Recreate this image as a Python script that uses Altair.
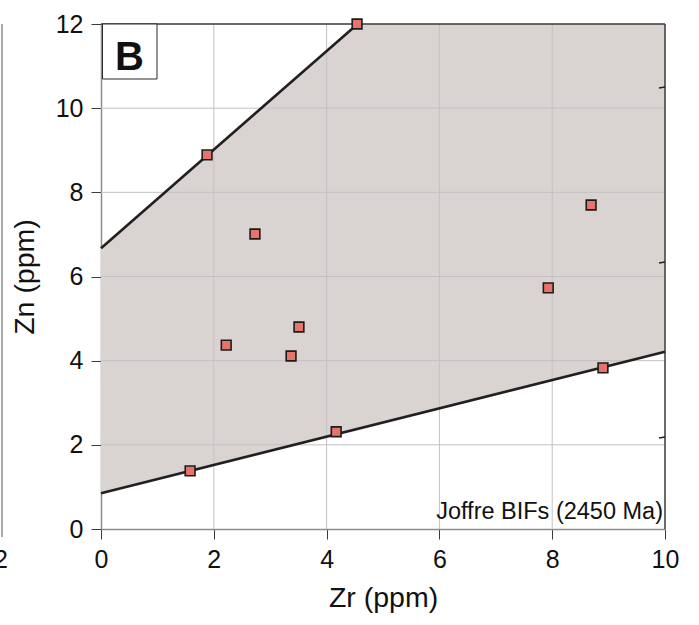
import altair as alt
import pandas as pd

# ---- data ----
zr = [4.54, 1.88, 2.73, 2.22, 3.51, 3.37, 4.17, 1.58, 7.93, 8.69, 8.90]
zn = [12.0, 8.89, 7.01, 4.37, 4.80, 4.11, 2.31, 1.38, 5.73, 7.70, 3.83]

upper_x = [0.0, 4.55]
upper_y = [6.67, 12.0]
lower_x = [0.0, 10.0]
lower_y = [0.85, 4.21]

area_x = [0.0, 4.55, 10.0]
area_lo = [0.85, 2.38, 4.21]
area_hi = [6.67, 12.0, 12.0]

x_ticks = [0, 2, 4, 6, 8, 10]
y_ticks = [0, 2, 4, 6, 8, 10, 12]
x_grid = [2, 4, 6, 8]
y_grid = [2, 4, 6, 8, 10]

W, H = 564, 505
FONT = "Liberation Sans"

xs = alt.Scale(domain=[0, 10], nice=False, zero=False)
ys = alt.Scale(domain=[0, 12], nice=False, zero=False)

xaxis = alt.Axis(values=x_ticks, grid=False, tickSize=10, tickColor="#3a3a3a",
                 domainColor="#8c8c8c", domainWidth=1.5, labelFont=FONT,
                 labelFontSize=25, labelColor="#111111", labelPadding=8,
                 labelFlush=False, labelOverlap=False, titleFont=FONT,
                 titleFontSize=28.5, titleFontWeight="normal", titleColor="#111111",
                 titlePadding=11)
yaxis = alt.Axis(values=y_ticks, grid=False, tickSize=10, tickColor="#3a3a3a",
                 domainColor="#8c8c8c", domainWidth=1.5, labelFont=FONT,
                 labelFontSize=25, labelColor="#111111", labelPadding=8,
                 labelFlush=False, labelOverlap=False, titleFont=FONT,
                 titleFontSize=28.5, titleFontWeight="normal", titleColor="#111111",
                 titlePadding=16)


def X(field):
    return alt.X(f"{field}:Q", scale=xs, axis=xaxis, title="Zr (ppm)")


def Y(field):
    return alt.Y(f"{field}:Q", scale=ys, axis=yaxis, title="Zn (ppm)")


area_df = pd.DataFrame({"x": area_x, "lo": area_lo, "hi": area_hi})
area = alt.Chart(area_df).mark_area(color="#d9d4d2", opacity=1).encode(
    x=X("x"), y=Y("lo"), y2="hi:Q"
)

gx = alt.Chart(pd.DataFrame({"x": x_grid})).mark_rule(color="#c2c2c2", strokeWidth=1).encode(x=X("x"))
gy = alt.Chart(pd.DataFrame({"y": y_grid})).mark_rule(color="#c2c2c2", strokeWidth=1).encode(y=Y("y"))

border_top = alt.Chart().mark_rule(color="#3a3a3a", strokeWidth=1.5).encode(
    x=alt.value(0), x2=alt.value(W), y=alt.value(0)
)
border_right = alt.Chart().mark_rule(color="#3a3a3a", strokeWidth=1.5).encode(
    x=alt.value(W), y=alt.value(0), y2=alt.value(H)
)

lines_df = pd.concat([
    pd.DataFrame({"x": upper_x, "y": upper_y, "s": "upper"}),
    pd.DataFrame({"x": lower_x, "y": lower_y, "s": "lower"}),
])
lines = alt.Chart(lines_df).mark_line(color="#231f20", strokeWidth=2.6).encode(
    x=X("x"), y=Y("y"), detail="s:N"
)

pts = alt.Chart(pd.DataFrame({"x": zr, "y": zn})).mark_square(
    size=95, color="#e8736a", opacity=1, stroke="#1c1c1c", strokeWidth=1.6
).encode(x=X("x"), y=Y("y"))

box = alt.Chart().mark_rect(fill="white", stroke="#2a2a2a", strokeWidth=1).encode(
    x=alt.value(1.5), x2=alt.value(56), y=alt.value(0), y2=alt.value(55)
)
box_txt = alt.Chart().mark_text(text="B", font=FONT, fontSize=40, fontWeight="bold",
                                color="#111111", align="center", baseline="alphabetic").encode(
    x=alt.value(28.5), y=alt.value(46)
)

joffre = alt.Chart().mark_text(text="Joffre BIFs (2450 Ma)", font=FONT, fontSize=23.5,
                               color="#111111", align="right", baseline="alphabetic").encode(
    x=alt.value(W - 2), y=alt.value(H - 10)
)

# fragments of neighbouring panels visible at the edges
left_line = alt.Chart().mark_rule(color="#8c8c8c", strokeWidth=1.5).encode(
    x=alt.value(-99), y=alt.value(0), y2=alt.value(513)
)
left_lbl = alt.Chart().mark_text(text="2", font=FONT, fontSize=25, color="#111111",
                                 align="center", baseline="top").encode(
    x=alt.value(-100), y=alt.value(H + 19)
)
right_t1 = alt.Chart().mark_rule(color="#222222", strokeWidth=1.5).encode(
    x=alt.value(W - 6), x2=alt.value(W), y=alt.value(64), y2=alt.value(63)
)
right_t2 = alt.Chart().mark_rule(color="#222222", strokeWidth=1.5).encode(
    x=alt.value(W - 6), x2=alt.value(W), y=alt.value(239), y2=alt.value(238)
)
right_t3 = alt.Chart().mark_rule(color="#222222", strokeWidth=1.5).encode(
    x=alt.value(W - 6), x2=alt.value(W), y=alt.value(414), y2=alt.value(413)
)

chart = alt.layer(
    area, gx, gy, border_top, border_right, lines, pts, box, box_txt, joffre,
    left_line, left_lbl, right_t1, right_t2, right_t3
).properties(
    width=W, height=H,
    autosize=alt.AutoSizeParams(type="none"),
    padding={"left": 101, "top": 24, "right": 34, "bottom": 96},
).configure_view(strokeWidth=0)

chart.save("out.html", embed_options={"renderer": "svg", "actions": False})
